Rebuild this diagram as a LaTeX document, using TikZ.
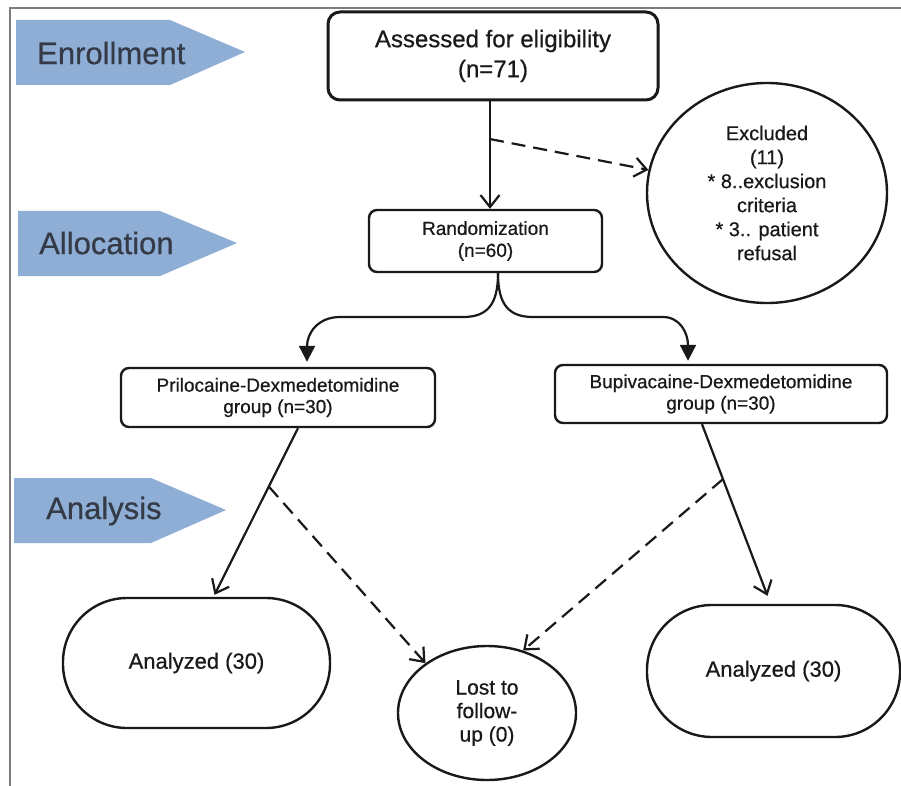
\documentclass[tikz,border=0pt]{standalone}
\usepackage{fontspec}
\setmainfont{Liberation Sans}[FakeBold=0.6]
\usetikzlibrary{arrows.meta,shapes.geometric,calc}
\definecolor{phase}{RGB}{143,174,214}
\definecolor{phasetext}{RGB}{52,58,70}
\definecolor{framecol}{RGB}{125,125,125}
\definecolor{ink}{RGB}{25,25,25}
\begin{document}
\begin{tikzpicture}[x=1pt,y=-1pt,
  box/.style={draw=ink, line width=2.4pt, rounded corners=8pt, align=center, inner sep=0pt, text=ink},
  oval/.style={draw=ink, line width=2.4pt, ellipse, align=center, inner sep=0pt, text=ink},
  stadium/.style={draw=ink, line width=2.4pt, align=center, inner sep=0pt, text=ink},
  openarrow/.style={draw=ink, line width=2.2pt, -{Straight Barb[length=12pt,width=19pt,line width=2.2pt]}},
  filledarrow/.style={draw=ink, line width=2.2pt, -{Triangle[length=16pt,width=16pt]}},
  dashpat/.style={dash pattern=on 14pt off 8pt},
  phasebox/.style={fill=phase, draw=none},
  phaselabel/.style={anchor=west, text=phasetext, font=\fontsize{31}{36}\selectfont, inner sep=0pt}
]
\useasboundingbox (0,0) rectangle (901,786);
\fill[white] (0,0) rectangle (901,786);
\draw[framecol, line width=1.5pt] (10,786) -- (10,8) -- (901,8);

% phase arrows
\fill[phasebox] (16,20) -- (170,20) -- (245,52) -- (170,85) -- (16,85) -- cycle;
\node[phaselabel] (penr) at (37,53) {Enrollment};
\fill[phasebox] (18,211) -- (160,211) -- (237,243) -- (160,276) -- (18,276) -- cycle;
\node[phaselabel] (palloc) at (39,243) {Allocation};
\fill[phasebox] (14,478) -- (151,478) -- (226,510) -- (151,543) -- (14,543) -- cycle;
\node[phaselabel] (pana) at (46,511) {Analysis};

% nodes
\node[box, line width=3pt, rounded corners=12pt, minimum width=330pt, minimum height=88pt,
      font=\fontsize{24}{30}\selectfont] (ass) at (493,56) {Assessed for eligibility\\(n=71)};
\node[box, minimum width=233pt, minimum height=62pt, font=\fontsize{19}{22}\selectfont]
      (rnd) at (485.5,241) {Randomization\\(n=60)};
\node[oval, minimum width=240pt, minimum height=220pt, font=\fontsize{20}{24}\selectfont]
      (exc) at (767,193) {Excluded\\(11)\\* 8..exclusion\\criteria\\* 3.. patient\\refusal};
\node[box, minimum width=314pt, minimum height=59pt, font=\fontsize{19}{21.5}\selectfont]
      (pri) at (278,397.5) {Prilocaine-Dexmedetomidine\\group (n=30)};
\node[box, minimum width=332pt, minimum height=58pt, font=\fontsize{19}{21.5}\selectfont]
      (bup) at (721,394) {Bupivacaine-Dexmedetomidine\\group (n=30)};
\node[stadium, rounded corners=64pt, minimum width=267pt, minimum height=130pt, font=\fontsize{22}{26}\selectfont]
      (anl) at (196.5,663) {Analyzed (30)};
\node[oval, minimum width=178pt, minimum height=134pt, font=\fontsize{21}{23.5}\selectfont]
      (lost) at (487,713) {Lost to\\follow-\\up (0)};
\node[stadium, rounded corners=65pt, minimum width=253pt, minimum height=132pt, font=\fontsize{22}{26}\selectfont]
      (anr) at (773.5,671) {Analyzed (30)};

% assessed -> randomization, excluded
\coordinate (a1) at ([xshift=-3pt]ass.south);
\coordinate (a2) at (a1 |- rnd.north);
\draw[openarrow] (a1) -- (a2);
\coordinate (j1) at ($(a1)!0.35!(a2)$);
\draw[openarrow, dashpat] (j1) -- (exc);

% fork
\coordinate (fk) at ([xshift=12.5pt]rnd.south);
\draw[filledarrow] (fk) .. controls (498,305) and (487,317) .. (463,317) -- (340,317)
   .. controls (318,317) and (307,333) .. ([xshift=29pt,yshift=5pt]pri.north);
\draw[filledarrow] (fk) .. controls (498,305) and (509,317) .. (533,317) -- (663,317)
   .. controls (680,317) and (688,333) .. ([xshift=-33pt,yshift=3pt]bup.north);

% left branch
\coordinate (p1) at ([xshift=20pt]pri.south);
\coordinate (p2) at ([xshift=18pt,yshift=2pt]anl.north);
\draw[openarrow] (p1) -- (p2);
\coordinate (pj) at ($(p1)!0.35!(p2)$);
\draw[openarrow, dashpat] (pj) -- (lost.141);

% right branch
\coordinate (b1) at ([xshift=-19pt]bup.south);
\coordinate (b2) at ([xshift=-6pt,yshift=8pt]anr.north);
\draw[openarrow] (b1) -- (b2);
\coordinate (bj) at ($(b1)!0.32!(b2)$);
\draw[openarrow, dashpat] (bj) -- (lost.60);
\end{tikzpicture}
\end{document}
